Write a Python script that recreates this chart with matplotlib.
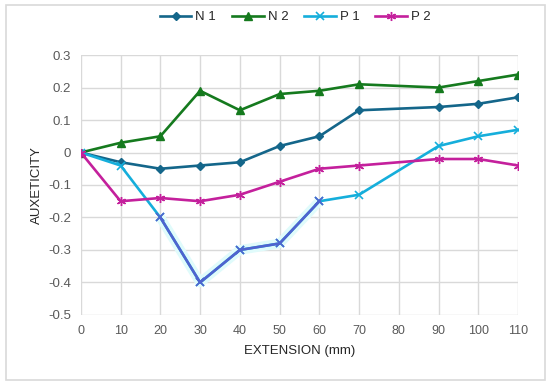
import matplotlib
matplotlib.use("Agg")
import matplotlib.pyplot as plt
from matplotlib.patches import Rectangle

plt.rcParams['font.family'] = ['Liberation Sans', 'DejaVu Sans']

# extension (mm) - no reading taken at 80
extension = [0, 10, 20, 30, 40, 50, 60, 70, 90, 100, 110]
n1 = [0, -0.03, -0.05, -0.04, -0.03, 0.02, 0.05, 0.13, 0.14, 0.15, 0.17]
n2 = [0, 0.03, 0.05, 0.19, 0.13, 0.18, 0.19, 0.21, 0.20, 0.22, 0.24]
p1 = [0, -0.04, -0.20, -0.40, -0.30, -0.28, -0.15, -0.13, 0.02, 0.05, 0.07]
p2 = [0, -0.15, -0.14, -0.15, -0.13, -0.09, -0.05, -0.04, -0.02, -0.02, -0.04]

x_ticks = list(range(0, 111, 10))
y_ticks = [-0.5, -0.4, -0.3, -0.2, -0.1, 0, 0.1, 0.2, 0.3]
y_labels = ['-0.5', '-0.4', '-0.3', '-0.2', '-0.1', '0', '0.1', '0.2', '0.3']

colors = {'N 1': '#14668A', 'N 2': '#157A1E', 'P 1': '#15AEDB', 'P 2': '#C4209C'}

fig = plt.figure(figsize=(5.5, 3.85), dpi=100)
fig.patches.append(Rectangle((0.011, 0.013), 0.979, 0.975, transform=fig.transFigure,
                             fill=False, edgecolor='#d9d9d9', linewidth=1.2))
ax = fig.add_axes([0.147, 0.182, 0.795, 0.675])

ax.plot(extension, n1, color=colors['N 1'], lw=1.9, marker='D', ms=4.5, label='N 1', zorder=3)
ax.plot(extension, n2, color=colors['N 2'], lw=1.9, marker='^', ms=6, label='N 2', zorder=3)
ax.plot(extension, p1, color=colors['P 1'], lw=1.9, marker='x', ms=5.5, mew=1.2, label='P 1', zorder=3)
# the dip section of P 1 renders in a bluish tone with a faint cyan halo
ax.plot(extension[2:7], p1[2:7], color='#e0fbfb', lw=7, solid_capstyle='butt', zorder=2.5)
ax.plot(extension[2:7], p1[2:7], color='#5063CE', lw=1.9, marker='x', ms=5.5, mew=1.2, zorder=3.1)
ax.plot(extension, p2, color=colors['P 2'], lw=1.9, marker=(6, 2, 0), ms=6.5, mew=1.0, label='P 2', zorder=3)

ax.set_xlim(0, 110)
ax.set_ylim(-0.5, 0.3)
ax.set_xticks(x_ticks)
ax.set_xticklabels([str(v) for v in x_ticks], fontsize=9, color='#595959')
ax.set_yticks(y_ticks)
ax.set_yticklabels(y_labels, fontsize=9.5, color='#595959')
ax.tick_params(length=0, pad=7)
ax.grid(True, color='#d9d9d9', lw=1)
ax.set_axisbelow(True)
for s in ax.spines.values():
    s.set_visible(False)

ax.set_xlabel('EXTENSION (mm)', fontsize=9.5, color='#262626', labelpad=6)
ax.set_ylabel('AUXETICITY', fontsize=9.5, color='#262626', labelpad=4)

ax.legend(loc='upper center', bbox_to_anchor=(0.49, 1.215), ncol=4, frameon=False,
          fontsize=9.5, handlelength=2.4, columnspacing=1.2, handletextpad=0.3,
          labelcolor='#262626')

fig.savefig('out.png', dpi=100)
